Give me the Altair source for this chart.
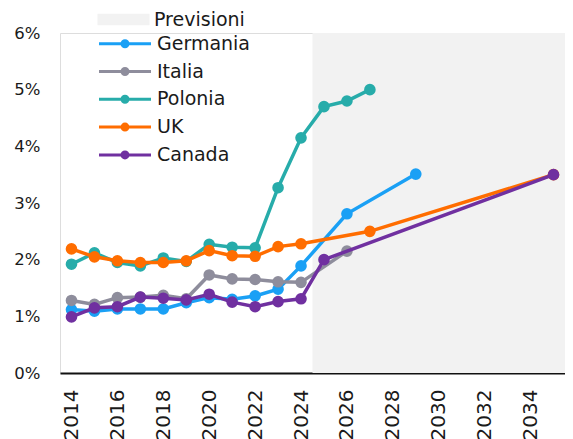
import altair as alt
import pandas as pd

FONT = "DejaVu Sans"

countries = ["Germania", "Italia", "Polonia", "UK", "Canada"]
colors = ["#1AA0F5", "#8E8D9C", "#27ACAA", "#FF6D00", "#7030A0"]

germania_years = [2014, 2015, 2016, 2017, 2018, 2019, 2020, 2021, 2022, 2023, 2024, 2026, 2029]
germania_vals = [1.12, 1.09, 1.13, 1.13, 1.13, 1.24, 1.33, 1.30, 1.36, 1.48, 1.89, 2.81, 3.51]

italia_years = [2014, 2015, 2016, 2017, 2018, 2019, 2020, 2021, 2022, 2023, 2024, 2026]
italia_vals = [1.28, 1.21, 1.33, 1.34, 1.37, 1.31, 1.73, 1.66, 1.65, 1.61, 1.60, 2.15]

polonia_years = [2014, 2015, 2016, 2017, 2018, 2019, 2020, 2021, 2022, 2023, 2024, 2025, 2026, 2027]
polonia_vals = [1.92, 2.12, 1.95, 1.89, 2.03, 1.97, 2.27, 2.22, 2.21, 3.27, 4.15, 4.70, 4.80, 5.00]

uk_years = [2014, 2015, 2016, 2017, 2018, 2019, 2020, 2021, 2022, 2023, 2024, 2027, 2035]
uk_vals = [2.19, 2.05, 1.98, 1.95, 1.95, 1.98, 2.16, 2.07, 2.06, 2.23, 2.28, 2.50, 3.50]

canada_years = [2014, 2015, 2016, 2017, 2018, 2019, 2020, 2021, 2022, 2023, 2024, 2025, 2035]
canada_vals = [0.99, 1.15, 1.17, 1.34, 1.32, 1.29, 1.39, 1.25, 1.17, 1.26, 1.31, 2.00, 3.50]

forecast_label = "Previsioni"
forecast_start = 2024.5
forecast_end = 2035.5

x_ticks = [2014, 2016, 2018, 2020, 2022, 2024, 2026, 2028, 2030, 2032, 2034]
y_ticks = [0, 1, 2, 3, 4, 5, 6]

series = {
    "Germania": (germania_years, germania_vals),
    "Italia": (italia_years, italia_vals),
    "Polonia": (polonia_years, polonia_vals),
    "UK": (uk_years, uk_vals),
    "Canada": (canada_years, canada_vals),
}
rows = []
for name in countries:
    ys, vs = series[name]
    for y, v in zip(ys, vs):
        rows.append({"Anno": y, "Valore": v, "Paese": name})
df = pd.DataFrame(rows)

band = pd.DataFrame([{"start": forecast_start, "end": forecast_end, "lo": 0, "hi": 6, "label": forecast_label}])

xscale = alt.Scale(domain=[2013.5, 2035.5], nice=False, zero=False)
yscale = alt.Scale(domain=[0, 6], nice=False)

xaxis = alt.Axis(values=x_ticks, format="d", labelAngle=-90, labelFontSize=20, labelFont=FONT,
                 labelColor="#1a1a1a", ticks=False, grid=False, domainColor="#111111",
                 domainWidth=2, labelPadding=16, title=None, labelFlush=False)
yaxis = alt.Axis(values=y_ticks, labelExpr="datum.value + '%'", labelFontSize=16.5, labelFont=FONT,
                 labelColor="#1a1a1a", ticks=False, grid=False, domain=False, labelPadding=20, title=None)

line_sym = "M-2.6,0H2.6M0.3,0A0.3,0.3,0,1,1,-0.3,0A0.3,0.3,0,1,1,0.3,0"
rect_sym = "M-2.6,-0.58H2.6V0.58H-2.6Z"

color_legend = alt.Legend(
    title=None, orient="none", legendX=53.5, legendY=-0.8, symbolType=line_sym, symbolSize=400,
    symbolStrokeWidth=3, labelFontSize=19, labelFont=FONT, labelColor="#1a1a1a",
    rowPadding=5.8, padding=0, labelOffset=20.5, symbolOpacity=1,
)
fill_legend = alt.Legend(
    title=None, orient="none", legendX=53.5, legendY=-23.5, symbolType=rect_sym, symbolSize=400,
    symbolStrokeWidth=0, labelFontSize=19, labelFont=FONT, labelColor="#1a1a1a",
    padding=0, labelOffset=20.5, symbolOpacity=1,
)

rect = alt.Chart(band).mark_rect().encode(
    x=alt.X("start:Q", scale=xscale, axis=xaxis),
    x2="end:Q",
    y=alt.Y("lo:Q", scale=yscale, axis=yaxis),
    y2="hi:Q",
    fill=alt.Fill("label:N", scale=alt.Scale(domain=[forecast_label], range=["#F2F2F2"]), legend=fill_legend),
)

color_enc = alt.Color("Paese:N", scale=alt.Scale(domain=countries, range=colors), legend=color_legend)

layers = [rect]
for name in countries:
    base = alt.Chart(df).transform_filter(alt.datum.Paese == name)
    layers.append(base.mark_line(strokeWidth=3.5).encode(
        x=alt.X("Anno:Q", scale=xscale, axis=xaxis),
        y=alt.Y("Valore:Q", scale=yscale, axis=yaxis),
        color=color_enc,
    ))
    layers.append(base.mark_circle(size=135, opacity=1).encode(
        x=alt.X("Anno:Q", scale=xscale, axis=xaxis),
        y=alt.Y("Valore:Q", scale=yscale, axis=yaxis),
        color=color_enc,
    ))

chart = alt.layer(*layers).properties(
    width=505, height=340,
    autosize=alt.AutoSizeParams(type="none"),
    padding={"left": 52, "top": 25, "right": 0, "bottom": 66},
).configure_view(stroke=None).configure(background="white")

chart.save("out.html", embed_options={"renderer": "svg", "actions": False})
